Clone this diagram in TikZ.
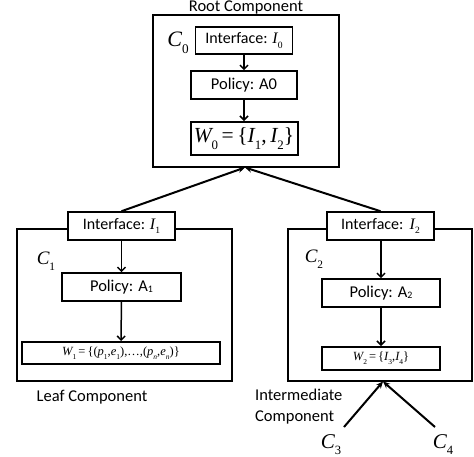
\documentclass[tikz,border=0pt]{standalone}
\usepackage{fontspec}
\setmainfont{Carlito}
\newfontfamily\tms{Liberation Serif}
\usetikzlibrary{arrows.meta}
\makeatletter
\newcommand\sbs[1]{\raisebox{-0.3em}{\fontsize{\fpeval{0.6*\f@size}}{1}\selectfont\tms #1}}
\newcommand\sdig[1]{\raisebox{-0.05em}{\fontsize{\fpeval{0.6*\f@size}}{1}\selectfont #1}}
\makeatother
\newcommand\vv[2]{{\tms\itshape #1}\sbs{#2}}
\newcommand\tm[1]{{\tms #1}}
\begin{document}
\begin{tikzpicture}[x=1pt,y=-1pt,
  comp/.style={draw,line width=2.8pt,inner sep=0pt,fill=none},
  ibox/.style={draw,line width=1.6pt,fill=white,inner sep=0pt,font=\fontsize{16}{18}\selectfont},
  pbox/.style={draw,line width=1.6pt,fill=white,inner sep=0pt,font=\fontsize{16.5}{18}\selectfont},
  wbox/.style={draw,line width=2pt,fill=white,inner sep=0pt},
  lab/.style={font=\fontsize{16.5}{21}\selectfont,inner sep=0pt},
  cl/.style={inner sep=0pt,font=\fontsize{21}{24}\selectfont},
  inarr/.style={line width=1.5pt,-{Straight Barb[length=4pt,width=8pt,line width=1.5pt]}},
  bigarr/.style={line width=2pt,-{Stealth[length=7pt,width=6pt]}}]
\useasboundingbox (0,0) rectangle (474,456);
% Root component
\node[comp,minimum width=186pt,minimum height=152pt] (root) at (246,91) {};
\node[lab] (rootlab) at (246,7) {Root Component};
\node[cl,font=\fontsize{22}{24}\selectfont] (c0) at (178,43) {\vv{C}{0}};
\node[ibox,minimum width=97pt,minimum height=27pt] (i0) at (244,40.5) {Interface: \vv{I}{0}};
\node[pbox,minimum width=106pt,minimum height=28pt] (p0) at (244,85) {Policy: A0};
\node[wbox,minimum width=107pt,minimum height=33pt,font=\fontsize{21.5}{24}\selectfont] (w0) at (244,138.5)
  {\vv{W}{0}\tm{\,=\,\{}\vv{I}{1}\tm{,\,}\vv{I}{2}\tm{\}}};
\draw[inarr] (i0) -- (p0);
\draw[inarr] (p0) -- (w0);
\coordinate (rootin) at (245,167.5);
% Leaf component
\node[comp,minimum width=215pt,minimum height=152pt] (leaf) at (124.5,305) {};
\node[ibox,minimum width=107pt,minimum height=28pt] (i1) at (121.5,226) {Interface: \vv{I}{1}};
\node[cl,font=\fontsize{19}{20}\selectfont] (c1) at (46,261) {\vv{C}{1}};
\node[pbox,minimum width=119pt,minimum height=28pt] (p1) at (121.5,287) {Policy: A\sdig{1}};
\node[wbox,minimum width=198pt,minimum height=22pt,font=\fontsize{12.5}{15}\selectfont] (w1) at (121,353)
  {\vv{W}{1}\tm{\,=\,\{(}\vv{p}{1}\tm{,}\vv{e}{1}\tm{),\ldots,(}\vv{p}{\itshape n}\tm{,}\vv{e}{\itshape n}\tm{)\}}};
\draw[inarr] (i1) -- (p1);
\draw[inarr] (p1) -- (w1);
\node[lab] (leaflab) at (92,397) {Leaf Component};
% Intermediate component
\node[comp,minimum width=184pt,minimum height=152pt] (inter) at (380,305) {};
\node[ibox,minimum width=107pt,minimum height=28pt] (i2) at (380.5,226) {Interface:\ \,\vv{I}{2}};
\node[cl,font=\fontsize{19}{20}\selectfont] (c2) at (314,259) {\vv{C}{2}};
\node[pbox,minimum width=118pt,minimum height=28pt] (p2) at (381,293) {Policy: A\sdig{2}};
\node[wbox,minimum width=118pt,minimum height=23pt,font=\fontsize{12.5}{15}\selectfont] (w2) at (381,358.5)
  {\vv{W}{2}\tm{\,=\,\{}\vv{I}{3}\tm{,}\vv{I}{4}\tm{\}}};
\draw[inarr] (i2.south -| p2.north) -- (p2);
\draw[inarr] (p2) -- (w2);
\node[lab,align=left,anchor=west] (interlab) at (255,406.5) {Intermediate\\Component};
\coordinate (interin) at (383,381.5);
% connectors to root
\draw[bigarr] (i1.north) -- (rootin);
\draw[bigarr] (i2.north) -- (rootin);
% C3, C4
\node[cl,anchor=base] (c3) at (331,448) {\vv{C}{3}};
\node[cl,anchor=base] (c4) at (443,448) {\vv{C}{4}};
\coordinate (c3top) at (344,427);
\coordinate (c4top) at (435,427);
\draw[bigarr] (c3top) -- (interin);
\draw[bigarr] (c4top) -- (interin);
\end{tikzpicture}
\end{document}
